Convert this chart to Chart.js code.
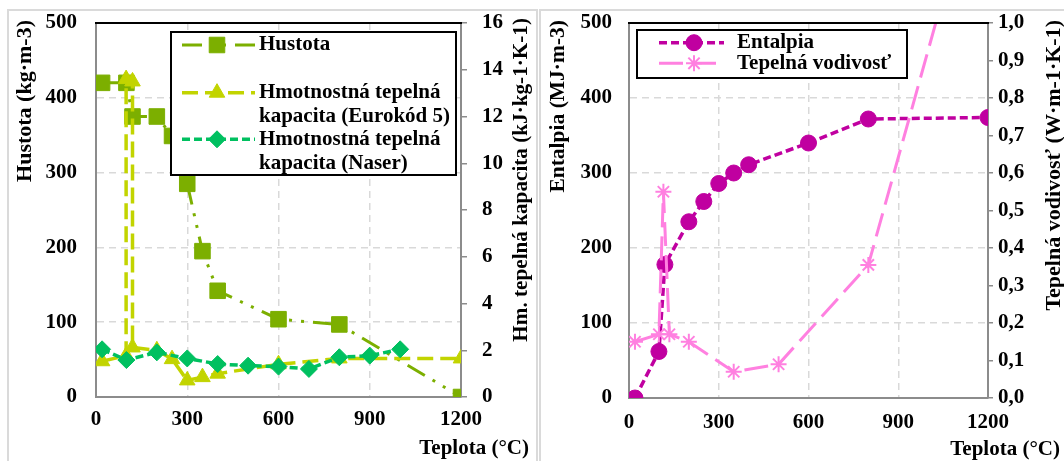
<!DOCTYPE html>
<html>
<head>
<meta charset="utf-8">
<script src="https://cdn.jsdelivr.net/npm/chart.js@4.4.1/dist/chart.umd.min.js"></script>
<style>
    body { margin: 0; background: #fff; width: 1064px; height: 461px; overflow: hidden; position: relative; }
    .panel { position: absolute; border: 2px solid #dadada; box-sizing: border-box; }
    canvas { position: absolute; top: 0; }
</style>
</head>
<body>
<div class="panel" style="left:7px; top:9px; width:531px; height:470px;"></div>
<div class="panel" style="left:539px; top:9px; width:540px; height:470px;"></div>
<canvas id="left" width="538" height="461" style="left:0"></canvas>
<canvas id="right" width="526" height="461" style="left:538px"></canvas>

<script>
// Teplota (°C) on x
const hustotaT = [20, 100, 120, 200, 250, 300, 350, 400, 600, 800, 1200];
const hustota = [420, 420, 375, 375, 349, 285, 195, 142, 104, 97, 0];

const eurokodT = [20, 99, 99, 120, 120, 200, 250, 300, 350, 400, 600, 800, 1200];
const eurokod = [1.53, 1.77, 13.6, 13.5, 2.12, 2.0, 1.62, 0.71, 0.85, 1.0, 1.4, 1.65, 1.65];

const naserT = [20, 100, 200, 300, 400, 500, 600, 700, 800, 900, 1000];
const naser = [2.04, 1.58, 1.91, 1.65, 1.41, 1.34, 1.3, 1.2, 1.7, 1.77, 2.04];

const entalpiaT = [20, 100, 120, 200, 250, 300, 350, 400, 600, 800, 1200];
const entalpia = [0, 62, 178, 235, 262, 286, 300, 311, 340, 372, 374];

const vodivostT = [20, 100, 115, 135, 200, 350, 500, 800, 1200];
const vodivost = [0.15, 0.17, 0.55, 0.17, 0.15, 0.07, 0.09, 0.355, 1.5];

// labels
const hustotaLabel = ["Hustota"];
const eurokodLabel = ["Hmotnostná tepelná", "kapacita (Eurokód 5)"];
const naserLabel = ["Hmotnostná tepelná", "kapacita (Naser)"];
const entalpiaLabel = ["Entalpia"];
const vodivostLabel = ["Tepelná vodivosť"];
const xTitle = "Teplota (°C)";

const SERIF = '"Liberation Serif", "Times New Roman", serif';
const GRID = "#d9d9d9";
const AXIS = "#8c8c8c";

Chart.defaults.font.family = SERIF;
Chart.defaults.font.weight = "bold";
Chart.defaults.font.size = 21;
Chart.defaults.color = "#000";

function pts(xs, ys) {
    return xs.map((x, i) => ({ x: x, y: ys[i] }));
}

function series(label, xs, ys, color, axis, extra) {
    return Object.assign({
        label: label.join(" "),
        legendLines: label,
        data: pts(xs, ys),
        yAxisID: axis,
        showLine: true,
        borderColor: color,
        backgroundColor: color,
        pointBackgroundColor: color,
        pointBorderColor: color,
        pointBorderWidth: 1,
        borderWidth: 3.5,
        pointHoverRadius: 0
    }, extra);
}

// axis titles, top border and in-plot legend
function decor(cfg) {
    return {
        id: "decor",
        afterDraw(chart) {
            const ctx = chart.ctx;
            const a = chart.chartArea;
            ctx.save();

            // black top edge of the plot area
            ctx.strokeStyle = "#000";
            ctx.lineWidth = 2;
            ctx.beginPath();
            ctx.moveTo(a.left - 1, a.top);
            ctx.lineTo(a.right + 1, a.top);
            ctx.stroke();

            // rotated y titles, read bottom to top, anchored at the top
            ctx.fillStyle = "#000";
            ctx.textBaseline = "middle";
            cfg.yTitles.forEach(t => {
                ctx.save();
                ctx.font = "bold " + t.size + "px " + SERIF;
                ctx.translate(t.x, t.top);
                ctx.rotate(-Math.PI / 2);
                ctx.textAlign = "right";
                ctx.fillText(t.text, 0, 0);
                ctx.restore();
            });

            // x title
            ctx.font = "bold 21px " + SERIF;
            ctx.textAlign = "right";
            ctx.fillText(xTitle, cfg.xTitle.x, cfg.xTitle.y);

            // legend
            const lg = cfg.legend;
            ctx.fillStyle = "#fff";
            ctx.fillRect(lg.left, lg.top, lg.right - lg.left, lg.bottom - lg.top);
            ctx.strokeStyle = "#000";
            ctx.lineWidth = 2;
            ctx.strokeRect(lg.left, lg.top, lg.right - lg.left, lg.bottom - lg.top);

            lg.items.forEach(it => {
                const ds = chart.data.datasets[it.index];
                ctx.save();
                ctx.strokeStyle = ds.borderColor;
                ctx.lineWidth = ds.borderWidth;
                ctx.setLineDash(ds.borderDash || []);
                ctx.beginPath();
                ctx.moveTo(lg.x1, it.y);
                ctx.lineTo(lg.x2, it.y);
                ctx.stroke();
                ctx.setLineDash([]);
                ctx.fillStyle = ds.pointBackgroundColor;
                ctx.strokeStyle = ds.pointBorderColor;
                ctx.lineWidth = ds.pointBorderWidth;
                Chart.helpers.drawPoint(ctx, {
                    pointStyle: ds.pointStyle,
                    radius: ds.pointRadius,
                    rotation: 0,
                    borderWidth: ds.pointBorderWidth
                }, lg.mx, it.y);
                ctx.restore();

                ctx.fillStyle = "#000";
                ctx.font = "bold 21px " + SERIF;
                ctx.textAlign = "left";
                ctx.textBaseline = "middle";
                ds.legendLines.forEach((line, k) => {
                    ctx.fillText(line, lg.tx, it.y + k * lg.lh);
                });
            });
            ctx.restore();
        }
    };
}

function xScale(height, pad) {
    return {
        type: "linear",
        min: 0,
        max: 1200,
        ticks: { stepSize: 300, padding: pad, autoSkip: false, maxRotation: 0, callback: v => String(v) },
        grid: { color: GRID, lineWidth: 1.5, drawTicks: false },
        border: { display: true, color: AXIS, width: 2, dash: [7, 5] },
        afterFit: s => { s.height = height; }
    };
}

// small lineHeight keeps the y labels from pushing the plot top down
const yFont = { size: 21, weight: "bold", lineHeight: 0.3 };

// ---- left panel ----
new Chart(document.getElementById("left"), {
    type: "scatter",
    data: {
        datasets: [
            series(naserLabel, naserT, naser, "#00c060", "y2", {
                borderDash: [8, 4], pointStyle: "rectRot", pointRadius: 8.5, order: 0
            }),
            series(eurokodLabel, eurokodT, eurokod, "#c2d400", "y2", {
                borderDash: [16, 7], pointStyle: "triangle", pointRadius: 9, order: 1
            }),
            series(hustotaLabel, hustotaT, hustota, "#7caf00", "y", {
                borderDash: [20, 9, 3, 9, 3, 9], borderWidth: 3, pointStyle: "rect", pointRadius: 11, order: 2
            })
        ]
    },
    options: {
        responsive: false,
        animation: false,
        layout: { padding: { top: 23, left: 0, right: 0, bottom: 0 } },
        plugins: { legend: { display: false }, tooltip: { enabled: false } },
        scales: {
            x: xScale(64, 10),
            y: {
                position: "left",
                min: 0,
                max: 500,
                ticks: { stepSize: 100, padding: 19, font: yFont },
                grid: { color: GRID, lineWidth: 1.5, drawTicks: false },
                border: { display: true, color: AXIS, width: 2, dash: [7, 5] },
                afterFit: s => { s.width = 96; }
            },
            y2: {
                position: "right",
                min: 0,
                max: 16,
                ticks: { stepSize: 2, padding: 15, font: yFont },
                grid: { drawOnChartArea: false, drawTicks: true, tickLength: 6, color: AXIS, lineWidth: 1.5 },
                border: { display: true, color: AXIS, width: 2 },
                afterFit: s => { s.width = 77; }
            }
        }
    },
    plugins: [decor({
        yTitles: [
            { text: "Hustota (kg·m-3)", x: 25, top: 20, size: 22 },
            { text: "Hm. tepelná kapacita (kJ·kg-1·K-1)", x: 522, top: 18, size: 21.2 }
        ],
        xTitle: { x: 529, y: 449 },
        legend: {
            left: 171, top: 32, right: 456, bottom: 175,
            x1: 182, x2: 255, mx: 217, tx: 259, lh: 24,
            items: [
                { index: 2, y: 45 },
                { index: 1, y: 92.7 },
                { index: 0, y: 139.3 }
            ]
        }
    })]
});

// ---- right panel ----
new Chart(document.getElementById("right"), {
    type: "scatter",
    data: {
        datasets: [
            series(vodivostLabel, vodivostT, vodivost, "#ff80e0", "y2", {
                borderDash: [24, 9], borderWidth: 3, pointStyle: "star", pointRadius: 8,
                pointBorderWidth: 2, order: 0
            }),
            series(entalpiaLabel, entalpiaT, entalpia, "#c000a0", "y", {
                borderDash: [8, 4], pointStyle: "circle", pointRadius: 8, order: 1
            })
        ]
    },
    options: {
        responsive: false,
        animation: false,
        layout: { padding: { top: 23, left: 0, right: 0, bottom: 0 } },
        plugins: { legend: { display: false }, tooltip: { enabled: false } },
        scales: {
            x: xScale(63, 12),
            y: {
                position: "left",
                min: 0,
                max: 500,
                ticks: { stepSize: 100, padding: 17, font: yFont },
                grid: { color: GRID, lineWidth: 1.5, drawTicks: false },
                border: { display: true, color: AXIS, width: 2, dash: [7, 5] },
                afterFit: s => { s.width = 91; }
            },
            y2: {
                position: "right",
                min: 0,
                max: 1,
                ticks: {
                    stepSize: 0.1,
                    padding: 5,
                    font: yFont,
                    callback: v => v.toFixed(1).replace(".", ",")
                },
                grid: { drawOnChartArea: false, drawTicks: true, tickLength: 5, color: AXIS, lineWidth: 1.5 },
                border: { display: true, color: AXIS, width: 2 },
                afterFit: s => { s.width = 76; }
            }
        }
    },
    plugins: [decor({
        yTitles: [
            { text: "Entalpia (MJ·m-3)", x: 20, top: 20, size: 21.5 },
            { text: "Tepelná vodivosť (W·m-1·K-1)", x: 516, top: 20, size: 22 }
        ],
        xTitle: { x: 522, y: 450 },
        legend: {
            left: 99, top: 30, right: 369, bottom: 78,
            x1: 121, x2: 186, mx: 156, tx: 199, lh: 21,
            items: [
                { index: 1, y: 42.7 },
                { index: 0, y: 63.3 }
            ]
        }
    })]
});
</script>
</body>
</html>
